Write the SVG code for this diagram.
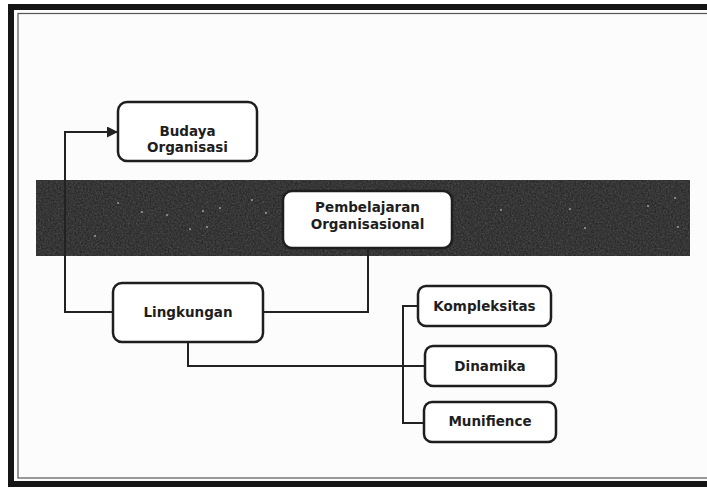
<svg xmlns="http://www.w3.org/2000/svg" width="707" height="490" viewBox="0 0 707 490">
  <defs>
    <style>
      .box { fill: #ffffff; stroke: #1e1e1e; stroke-width: 2.5; }
      .lbl { font-family: "DejaVu Sans", "Liberation Sans", sans-serif; font-weight: bold; font-size: 13.5px; fill: #1e1e1e; text-anchor: middle; }
      .conn { fill: none; stroke: #222222; stroke-width: 2; }
    </style>
    <marker id="arrow" viewBox="0 0 10 10" refX="10" refY="5" markerWidth="5.5" markerHeight="5.5" markerUnits="strokeWidth" orient="auto">
      <path d="M0,0 L10,5 L0,10 z" fill="#222222"/>
    </marker>
    <filter id="noise" x="0" y="0" width="100%" height="100%">
      <feTurbulence type="fractalNoise" baseFrequency="0.6" numOctaves="3" seed="7" result="n"/>
      <feColorMatrix in="n" type="saturate" values="0" result="g"/>
      <feComposite in="g" in2="SourceGraphic" operator="in"/>
    </filter>
  </defs>

  <rect x="0" y="0" width="707" height="490" fill="#ffffff"/>
  <rect x="14" y="10" width="700" height="471" fill="#fcfcfc"/>

  <!-- frame -->
  <rect x="11" y="7" width="710" height="477" fill="none" stroke="#151515" stroke-width="6"/>
  <rect x="18" y="13.5" width="700" height="464.5" fill="none" stroke="#555555" stroke-width="1.2"/>

  <!-- dark band -->
  <g id="band">
    <rect x="36" y="180" width="654" height="76" fill="#1f1f1f"/>
    <rect x="36" y="180" width="654" height="76" fill="#000" filter="url(#noise)" opacity="0.3"/>
    <g fill="#c8c8c8" opacity="0.7">
      <circle cx="118" cy="203" r="1"/>
      <circle cx="142" cy="212" r="1"/>
      <circle cx="167" cy="215" r="1"/>
      <circle cx="190" cy="229" r="1"/>
      <circle cx="203" cy="211" r="1"/>
      <circle cx="207" cy="227" r="1"/>
      <circle cx="220" cy="208" r="1"/>
      <circle cx="252" cy="200" r="1"/>
      <circle cx="266" cy="213" r="1"/>
      <circle cx="501" cy="210" r="1"/>
      <circle cx="570" cy="209" r="1"/>
      <circle cx="585" cy="228" r="1"/>
      <circle cx="648" cy="206" r="1"/>
      <circle cx="675" cy="198" r="1"/>
      <circle cx="678" cy="227" r="1"/>
      <circle cx="95" cy="236" r="1"/>
    </g>
  </g>

  <!-- connectors -->
  <g id="connectors">
    <path class="conn" d="M113,312 H65 V132 H118" marker-end="url(#arrow)"/>
    <path class="conn" d="M263,312 H368 V248"/>
    <path class="conn" d="M188,343 V366 H425"/>
    <path class="conn" d="M418,306 H403 V423 H424"/>
  </g>

  <g id="budaya">
    <rect class="box" x="118" y="102" width="139" height="59" rx="9"/>
    <text class="lbl" x="187.5" y="136">Budaya</text>
    <text class="lbl" x="187.5" y="152">Organisasi</text>
  </g>

  <g id="pembelajaran">
    <rect class="box" x="283" y="191" width="169" height="57" rx="9"/>
    <text class="lbl" x="367.5" y="212">Pembelajaran</text>
    <text class="lbl" x="367.5" y="229">Organisasional</text>
  </g>

  <g id="lingkungan">
    <rect class="box" x="113" y="283" width="150" height="59" rx="9"/>
    <text class="lbl" x="188" y="317">Lingkungan</text>
  </g>

  <g id="kompleksitas">
    <rect class="box" x="418" y="286" width="133" height="40" rx="8"/>
    <text class="lbl" x="484.5" y="311">Kompleksitas</text>
  </g>

  <g id="dinamika">
    <rect class="box" x="425" y="346" width="131" height="40" rx="8"/>
    <text class="lbl" x="490" y="371">Dinamika</text>
  </g>

  <g id="munifience">
    <rect class="box" x="424" y="402" width="132" height="40" rx="8"/>
    <text class="lbl" x="490" y="426">Munifience</text>
  </g>
</svg>
